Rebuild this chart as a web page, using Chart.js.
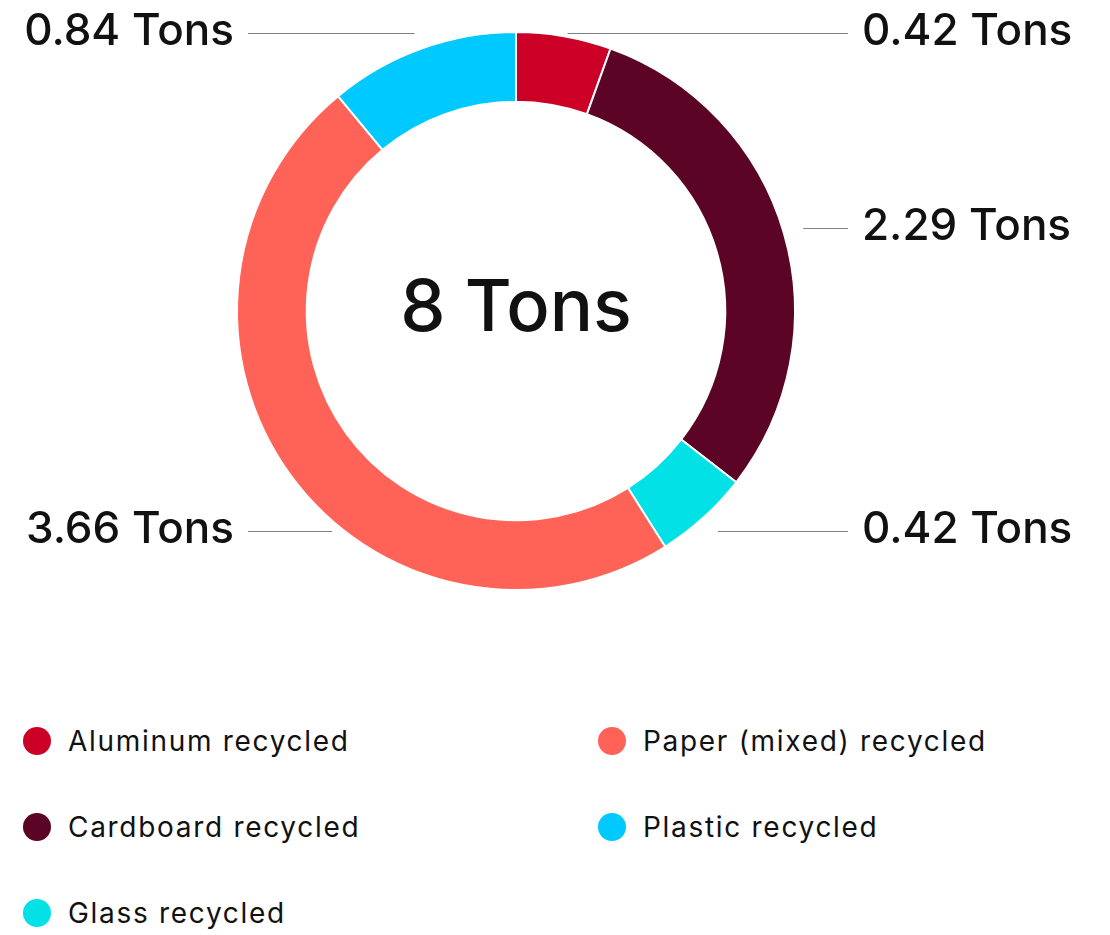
<!DOCTYPE html>
<html>
<head>
<meta charset="utf-8">
<script src="https://cdn.jsdelivr.net/npm/chart.js@4/dist/chart.umd.min.js"></script>
<style>
  html, body { margin: 0; padding: 0; background: #ffffff; }
  body { width: 1110px; height: 935px; position: relative; overflow: hidden; font-family: Inter, "Noto Sans", sans-serif; }
  #wrap { position: absolute; left: 0; top: 0; width: 1110px; height: 650px; }
  #legend { position: absolute; left: 23px; top: 718px; display: grid; grid-auto-flow: column; grid-template-rows: repeat(3, 86px); grid-template-columns: 575px 480px; }
  .item { display: flex; align-items: center; height: 46px; font-size: 28px; letter-spacing: 1.7px; color: #111; }
  .dot { width: 28px; height: 28px; border-radius: 50%; margin-right: 17px; flex: none; }
</style>
</head>
<body>
<div id="wrap"><canvas id="c" width="1110" height="650"></canvas></div>
<div id="legend"></div>
<script>
const categories = ["Aluminum recycled", "Cardboard recycled", "Glass recycled", "Paper (mixed) recycled", "Plastic recycled"];
const tons = [0.42, 2.29, 0.42, 3.66, 0.84];
const colors = ["#CC0027", "#5B0425", "#02E1E6", "#FF6358", "#00C9FF"];
const legendOrder = [0, 1, 2, 3, 4];
const unit = "Tons";

const labelPlugin = {
  id: 'outLabels',
  afterDraw(chart) {
    const ctx = chart.ctx;
    const meta = chart.getDatasetMeta(0);
    const area = chart.chartArea;
    const arc0 = meta.data[0];
    const cx = arc0.x, cy = arc0.y, R = arc0.outerRadius;
    const rAnchor = R + 20;
    const leftEnd = area.left + 12, rightEnd = area.right + 52;
    ctx.save();
    meta.data.forEach((arc, i) => {
      const mid = (arc.startAngle + arc.endAngle) / 2;
      let ax = cx + rAnchor * Math.cos(mid);
      let ay = cy + rAnchor * Math.sin(mid);
      const right = ax >= cx;
      let ly = ay;
      const topRow = cy - R + 1, bottomRow = cy + 0.79 * R;
      if (ly < topRow) ly = topRow;
      if (ay > cy + 0.5 * R) {
        ly = bottomRow;
        const rr = right ? rAnchor : R + 8;
        const dx = Math.sqrt(Math.max(0, rr * rr - (ly - cy) * (ly - cy)));
        ax = right ? cx + dx : cx - dx;
      }
      ly = Math.round(ly) + 0.5;
      ctx.strokeStyle = '#808080';
      ctx.lineWidth = 1;
      ctx.beginPath();
      if (right) { ctx.moveTo(ax, ly); ctx.lineTo(rightEnd, ly); }
      else { ctx.moveTo(leftEnd, ly); ctx.lineTo(ax, ly); }
      ctx.stroke();
      ctx.fillStyle = '#111';
      ctx.font = '500 44px Inter, "Noto Sans", sans-serif';
      ctx.textBaseline = 'middle';
      ctx.textAlign = right ? 'left' : 'right';
      const txt = tons[i].toFixed(2) + ' ' + unit;
      ctx.fillText(txt, right ? rightEnd + 14 : leftEnd - 14, ly - 2);
    });
    const total = tons.reduce((a, b) => a + b, 0);
    ctx.font = '500 72px Inter, "Noto Sans", sans-serif';
    ctx.textAlign = 'center';
    ctx.textBaseline = 'middle';
    ctx.fillStyle = '#111';
    ctx.fillText(Math.round(total) + ' ' + unit, cx, cy - 2);
    ctx.restore();
  }
};

new Chart(document.getElementById('c'), {
  type: 'doughnut',
  data: {
    labels: categories,
    datasets: [{
      data: tons,
      backgroundColor: colors,
      borderColor: '#ffffff',
      borderWidth: 2,
      hoverOffset: 0
    }]
  },
  options: {
    responsive: false,
    animation: false,
    cutout: '75%',
    layout: { padding: { top: 31, bottom: 59, left: 236, right: 314 } },
    plugins: { legend: { display: false }, tooltip: { enabled: false } }
  },
  plugins: [labelPlugin]
});

const leg = document.getElementById('legend');
legendOrder.forEach(i => {
  const d = document.createElement('div');
  d.className = 'item';
  const dot = document.createElement('span');
  dot.className = 'dot';
  dot.style.background = colors[i];
  const t = document.createElement('span');
  t.textContent = categories[i];
  d.appendChild(dot); d.appendChild(t);
  leg.appendChild(d);
});
</script>
</body>
</html>
